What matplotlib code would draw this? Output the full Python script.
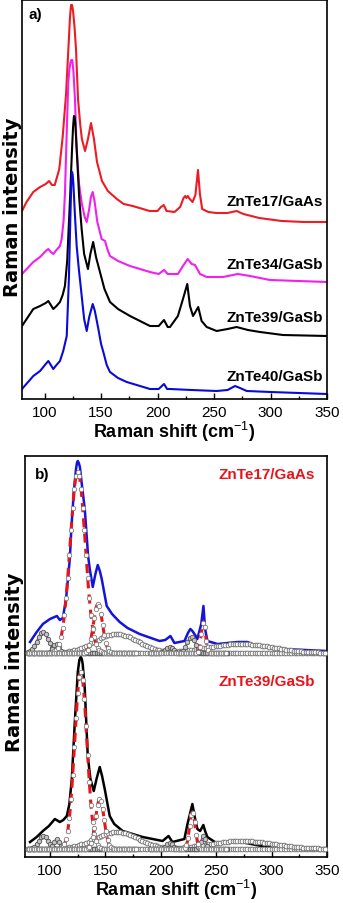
import numpy as np
import matplotlib
matplotlib.use("Agg")
import matplotlib.pyplot as plt
from matplotlib.ticker import MultipleLocator

plt.rcParams['font.family'] = ['Liberation Sans', 'DejaVu Sans']
plt.rcParams['mathtext.fontset'] = 'custom'
plt.rcParams['mathtext.rm'] = 'Liberation Sans'
plt.rcParams['mathtext.bf'] = 'Liberation Sans:bold'

# ---- panel a: measured spectra (stacked, arbitrary units) ----
red_x = [80, 84, 90, 96, 101, 104, 106.5, 109, 113, 116, 119, 120.5, 121.5, 122.5, 123.4,
         124.3, 125.2, 126.5, 127.8, 128.7, 129.6, 131.5, 133, 135.8, 138.4, 141.1, 143.7,
         146.4, 148.5, 150.8, 156, 164, 170, 178, 193, 200, 203, 205.5, 208, 215, 220, 223,
         224.5, 225.5, 226.7, 228.5, 231, 233.5, 235.8, 237.5, 239.5, 245, 252, 262, 270,
         276, 290, 310, 330, 350]
red_y = [188, 197, 207, 212, 215, 218, 214, 214, 230, 262, 305, 338, 360, 382, 394,
         394, 388, 372, 350, 325, 300, 275, 260, 248, 260, 276, 260,
         237, 228, 218, 208, 200, 195, 193, 188, 188, 192, 194, 188, 187, 192, 201,
         203, 201, 203, 200, 197, 204, 229, 205, 190, 187, 186, 186, 188,
         185, 181, 178, 177, 177]

mag_x = [80, 90, 96, 101, 103.3, 105.5, 107.7, 110.5, 113.6, 115.1, 116.8, 118, 119.6, 121,
         122, 122.8, 123.7, 124.5, 125.5, 126.9, 128.4, 130.5, 133, 135.5, 137.3, 139.5,
         141, 142.6, 144.2, 146.7, 150.5, 153.5, 155.5, 157.9, 165, 175.6, 193.3, 201, 205.7,
         209, 218, 222.5, 226.7, 230.2, 233.2, 237.6, 243.5, 258, 271, 281.8, 299.5, 350]
mag_y = [125, 137, 142, 148, 150, 147, 145, 149, 153, 160, 178, 205, 267, 317,
         330, 336, 339, 339, 328, 300, 250, 215, 195, 182, 177, 190,
         202, 207, 198, 177, 160, 158, 150, 143, 138, 133, 127, 125, 129,
         125, 125, 133, 140, 135, 134, 125, 122, 122, 125, 123, 119, 117]

blk_x = [80, 90, 96, 101, 103.3, 105.5, 107.7, 110.5, 113.6, 116, 118, 120, 122.5, 124.3,
         125.2, 126, 126.6, 127.2, 128.4, 130.7, 132.8, 135, 138.4, 140.5, 143, 145.5, 149,
         153, 157.9, 165, 175.6, 193.3, 201, 205.7, 209, 211, 218, 222.5, 226.3, 228.7,
         231.4, 233.5, 236, 239, 243.5, 252.3, 262, 270, 280, 290.7, 311, 350]
blk_y = [73, 90, 93, 96, 98, 94, 90, 93, 97, 104, 113, 138, 200, 250,
         272, 283, 282, 275, 250, 200, 170, 145, 130, 145, 157, 142, 127,
         110, 97, 90, 83, 73, 73, 79, 72, 72, 83, 100, 115, 93,
         83, 87, 92, 78, 72, 68, 70, 72, 69, 67, 64, 63]

blu_x = [80, 90, 96, 101, 103.3, 105.5, 107.7, 110.5, 113.6, 116.5, 119.6, 121.5, 123,
         123.7, 124.3, 124.9, 125.5, 126.8, 128.4, 130.3, 132.2, 135, 137.3, 139.5, 142.6,
         144.5, 147.6, 150, 152, 155, 157.9, 165, 172.7, 193.3, 201, 205.7, 208.5, 211, 230,
         252.3, 262, 268.6, 273, 279, 300, 350]
blu_y = [10, 23, 28, 35, 38, 34, 30, 34, 38, 48, 63, 120, 190,
         218, 227, 224, 215, 185, 153, 130, 110, 80, 68, 82, 95,
         88, 70, 55, 47, 34, 27, 21, 17, 10, 10, 15, 10, 10, 9,
         8, 9, 13, 11, 8, 7, 5]

labels_a = ['ZnTe17/GaAs', 'ZnTe34/GaSb', 'ZnTe39/GaSb', 'ZnTe40/GaSb']
label_a_y = [198, 135, 82, 23]
colors_a = ['#ec1c24', '#f020f0', '#000000', '#0a0ad8']

# ---- panel b: measured spectra ----
b17_x = [82, 88, 93.6, 100, 106.2, 108.9, 111.6, 114.5, 117.9, 119.4, 121.5, 123.5, 124.3,
         125.1, 126, 127, 129, 131.4, 134.4, 135.9, 138.6, 141, 143.1, 145, 146.7, 151.2,
         156, 162.9, 170, 180.9, 198.9, 204, 208.7, 212.3, 221.4, 224.5, 226.7, 228.5, 231,
         233, 236.5, 238.5, 240, 242.1, 251.1, 269.1, 278.1, 287.1, 310.5, 350]
b17_y = [215, 225, 233, 238, 241, 237, 239, 258, 298, 331, 365, 388, 394,
         396, 394, 390, 370, 348, 301, 288, 270, 283, 292, 286, 278, 251,
         243, 235, 229, 223, 216, 217, 221, 214, 216, 224, 228, 226, 222,
         218, 233, 251, 228, 216, 213, 215, 215, 211, 208, 206]

b39_x = [82, 88, 93.6, 99, 104.4, 108.9, 112, 115.2, 117.5, 119.7, 122.4, 125.1, 126.5,
         127.8, 128.7, 129.5, 131.4, 134.1, 136.5, 139.5, 142, 144.9, 147, 149.4, 153.9, 158,
         165.6, 183.6, 201.6, 207, 210.5, 221.3, 224.1, 228.5, 231, 233, 235.5, 238.4, 240,
         242, 250.1, 260, 268.1, 277.1, 295.1, 320, 350]
b39_y = [15, 20, 26, 31, 38, 35, 37, 41, 53, 78, 135, 185, 197,
         200, 198, 193, 168, 101, 78, 66, 78, 90, 81, 68, 41, 33,
         26, 20, 16, 21, 15, 18, 33, 53, 38, 28, 26, 32, 26,
         20, 14, 14, 16, 14, 10, 9, 8]

# fitted components: (centre, height, FWHM)
fit17_base = 204
fit17_gray = [(93.6, 21, 12), (105.5, 9, 6), (208, 6, 8), (227.5, 16, 9)]
fit17_red = [(125, 181, 16), (143.3, 49, 9.5), (238.4, 31, 4.5)]
fit17_broad = [(160, 19, 46), (272, 9, 70)]

fit39_base = 8
fit39_gray = [(94, 13, 10), (106, 10, 6), (208, 6, 7), (238.4, 13, 5)]
fit39_red = [(127.8, 177, 13), (145, 50, 9), (228.5, 37, 6)]
fit39_broad = [(160, 17, 46), (273, 8, 70)]

labels_b = ['ZnTe17/GaAs', 'ZnTe39/GaSb']
label_b_y = [383, 176]


def gauss(x, c, h, w, base):
    return base + h * np.exp(-4 * np.log(2) * ((x - c) / w) ** 2)


def fit_range(c):
    return (80, 178) if c < 180 else (190, 260)


def style_axis(ax, xmin):
    ax.set_xlim(xmin, 350)
    ax.set_xticks(np.arange(100, 351, 50))
    ax.xaxis.set_minor_locator(MultipleLocator(25))
    ax.tick_params(axis='x', which='both', direction='in', top=False, labelsize=11, pad=4, width=1)
    ax.tick_params(axis='x', which='major', length=4)
    ax.tick_params(axis='x', which='minor', length=2.5)
    ax.set_yticks([])
    for s in ax.spines.values():
        s.set_linewidth(1.2)
    ax.set_xlabel('Raman shift (cm$^{-1}$)', fontsize=13, fontweight='bold', labelpad=0)
    ax.set_ylabel('Raman intensity', fontsize=14, fontweight='bold', family='DejaVu Sans')


def draw_fit(ax, base, gray, red, broad):
    for c, h, w in broad:
        x = np.arange(80, 350.1, 2.2)
        ax.plot(x, gauss(x, c, h, w, base), ls='none', marker='o', ms=3.4, mfc='white',
                mec='#6e6e6e', mew=0.6, zorder=3)
    for c, h, w in gray:
        lo, hi = fit_range(c)
        x = np.arange(lo, hi + 0.1, 2)
        ax.plot(x, gauss(x, c, h, w, base), color='#7a7a7a', lw=1.6, marker='o', ms=3.2,
                mfc='#c4c4c4', mec='#555555', mew=0.6, zorder=4)
    for c, h, w in red:
        lo, hi = fit_range(c)
        x = np.arange(lo, hi + 0.1, 1.5)
        ax.plot(x, gauss(x, c, h, w, base), ls='none', marker='o', ms=3.2, mfc='white',
                mec='#808080', mew=0.6, zorder=5)
        xr = np.arange(c - 1.3 * w, c + 1.3 * w + 0.01, 0.25)
        ax.plot(xr, gauss(xr, c, h, w, base), color='#e8141c', lw=2.2, ls=(0, (3, 2)), zorder=4.5)


fig = plt.figure(figsize=(3.43, 9.04), dpi=100)
ax1 = fig.add_axes([22 / 343, 1 - 400 / 904, 305 / 343, 399 / 904])
ax2 = fig.add_axes([24.5 / 343, 1 - 858 / 904, 302.5 / 343, 401 / 904])

# panel a
for xs, ys, col in zip([red_x, mag_x, blk_x, blu_x], [red_y, mag_y, blk_y, blu_y], colors_a):
    ax1.plot(xs, ys, color=col, lw=1.5)
for lab, ly in zip(labels_a, label_a_y):
    ax1.text(346.5, ly, lab, ha='right', va='center', fontsize=11, fontweight='bold')
ax1.set_ylim(0, 399)
style_axis(ax1, 80)
ax1.text(0.02, 0.965, 'a)', transform=ax1.transAxes, ha='left', va='center',
         fontsize=11, fontweight='bold')
ax1.yaxis.set_label_coords(0.0, 0.484)

# panel b
ax2.plot(b17_x, b17_y, color='#1414dc', lw=1.8, zorder=2)
ax2.plot(b39_x, b39_y, color='black', lw=1.8, zorder=2)
draw_fit(ax2, fit17_base, fit17_gray, fit17_red, fit17_broad)
draw_fit(ax2, fit39_base, fit39_gray, fit39_red, fit39_broad)
for lab, ly in zip(labels_b, label_b_y):
    ax2.text(339, ly, lab, ha='right', va='center', fontsize=11, fontweight='bold',
             color='#e8141c')
ax2.set_ylim(0, 401)
style_axis(ax2, 77)
ax2.text(0.035, 0.955, 'b)', transform=ax2.transAxes, ha='left', va='center',
         fontsize=11, fontweight='bold')
ax2.yaxis.set_label_coords(0.0, 0.489)

fig.savefig('out.png', dpi=100)
